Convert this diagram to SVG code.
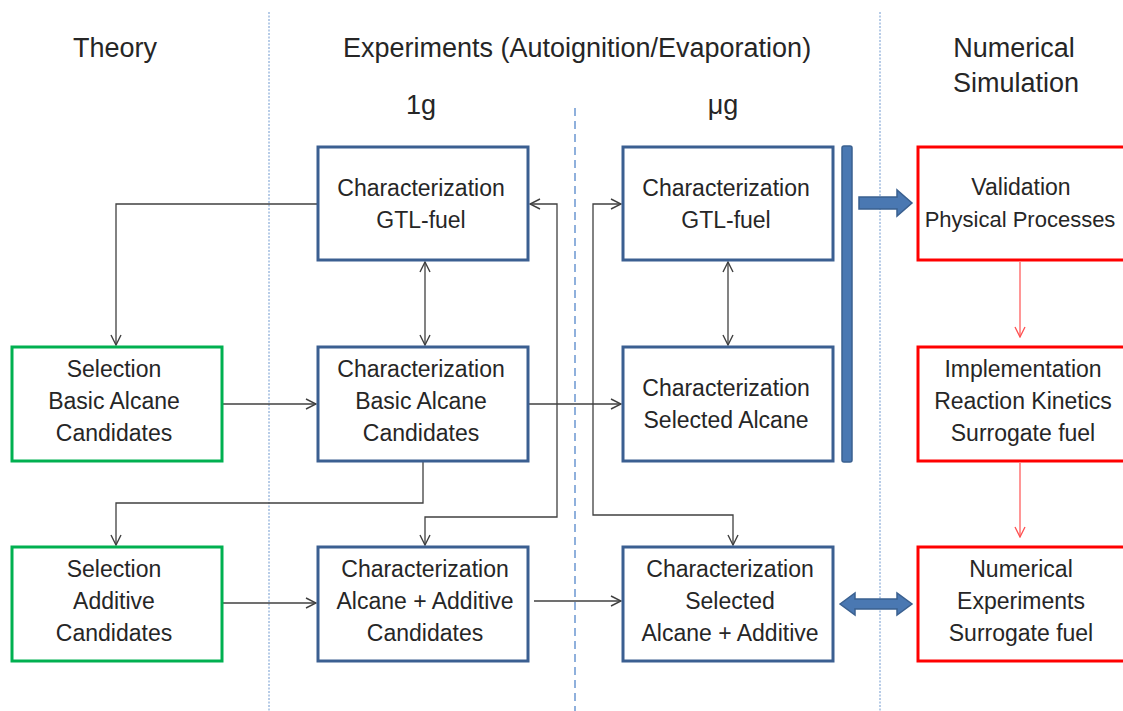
<svg xmlns="http://www.w3.org/2000/svg" width="1123" height="711" viewBox="0 0 1123 711">
<defs>
<style>
text{font-family:"Liberation Sans",Arial,sans-serif;fill:#262626;text-anchor:middle;}
.hd{font-size:27px;}
.bt{font-size:23px;}
.sm{font-size:22px;}
.blue{fill:#fff;stroke:#3B5F91;stroke-width:3;}
.green{fill:#fff;stroke:#00B050;stroke-width:3;}
.red{fill:#fff;stroke:#FF0000;stroke-width:3;}
.con{fill:none;stroke:#404040;stroke-width:1.3;}
.rcon{fill:none;stroke:#FF5050;stroke-width:1.2;}
.fine{stroke:#6F98CF;stroke-width:1;stroke-dasharray:2,1.5;}
.mid{stroke:#8FB0DC;stroke-width:2;stroke-dasharray:8,5;}
.thick{fill:#4A78B2;stroke:#3A6090;stroke-width:1.5;}
</style>
<marker id="ah" viewBox="0 0 12 12" refX="11" refY="6" markerWidth="12" markerHeight="12" markerUnits="userSpaceOnUse" orient="auto-start-reverse">
<path d="M1,1 L11,6 L1,11" fill="none" stroke="#404040" stroke-width="1.4"/>
</marker>
<marker id="rah" viewBox="0 0 12 12" refX="11" refY="6" markerWidth="12" markerHeight="12" markerUnits="userSpaceOnUse" orient="auto">
<path d="M1,1 L11,6 L1,11" fill="none" stroke="#FF5050" stroke-width="1.3"/>
</marker>
</defs>
<rect width="1123" height="711" fill="#fff"/>
<g id="dividers">
<line class="fine" x1="269" y1="12" x2="269" y2="711"/>
<line class="fine" x1="880" y1="12" x2="880" y2="711"/>
<line class="mid" x1="575" y1="108" x2="575" y2="711"/>
</g>
<g id="headers">
<text class="hd" x="115" y="57">Theory</text>
<text class="hd" x="577" y="57">Experiments (Autoignition/Evaporation)</text>
<text class="hd" x="1014" y="57">Numerical</text>
<text class="hd" x="1016" y="92">Simulation</text>
<text class="hd" x="421" y="114">1g</text>
<text class="hd" x="723" y="114">μg</text>
</g>
<g id="connectors">
<path class="con" d="M318,204 H116 V345" marker-end="url(#ah)"/>
<path class="con" d="M222,404 H316" marker-end="url(#ah)"/>
<path class="con" d="M425,262 V345" marker-start="url(#ah)" marker-end="url(#ah)"/>
<path class="con" d="M528,404 H621" marker-end="url(#ah)"/>
<path class="con" d="M423,462 V503 H116 V545" marker-end="url(#ah)"/>
<path class="con" d="M530,204 H557 V517 H425 V545" marker-start="url(#ah)" marker-end="url(#ah)"/>
<path class="con" d="M728,262 V345" marker-start="url(#ah)" marker-end="url(#ah)"/>
<path class="con" d="M621,204 H593 V515 H733 V545" marker-start="url(#ah)" marker-end="url(#ah)"/>
<path class="con" d="M222,603 H316" marker-end="url(#ah)"/>
<path class="con" d="M534,601 H621" marker-end="url(#ah)"/>
<path class="rcon" d="M1020,262 V337" marker-end="url(#rah)"/>
<path class="rcon" d="M1020,463 V537" marker-end="url(#rah)"/>
<path class="thick" d="M859,197 H897 V190 L912,203 L897,216 V209 H859 Z"/>
<path class="thick" d="M840,604 L855,593 V599 H897 V593 L912,604 L897,615 V609 H855 V615 Z"/>
<rect class="thick" x="842" y="146" width="10" height="316" rx="2"/>
</g>
<g id="n_sel_basic">
<rect class="green" x="12" y="347" width="210" height="114"/>
<text class="bt" x="114" y="377">Selection</text>
<text class="bt" x="114" y="409">Basic Alcane</text>
<text class="bt" x="114" y="441">Candidates</text>
</g>
<g id="n_sel_add">
<rect class="green" x="12" y="547" width="210" height="114"/>
<text class="bt" x="114" y="577">Selection</text>
<text class="bt" x="114" y="609">Additive</text>
<text class="bt" x="114" y="641">Candidates</text>
</g>
<g id="n_1g_gtl">
<rect class="blue" x="318" y="147" width="210" height="113"/>
<text class="bt" x="421" y="196">Characterization</text>
<text class="bt" x="421" y="228">GTL-fuel</text>
</g>
<g id="n_1g_basic">
<rect class="blue" x="318" y="347" width="210" height="114"/>
<text class="bt" x="421" y="377">Characterization</text>
<text class="bt" x="421" y="409">Basic Alcane</text>
<text class="bt" x="421" y="441">Candidates</text>
</g>
<g id="n_1g_add">
<rect class="blue" x="318" y="547" width="210" height="114"/>
<text class="bt" x="425" y="577">Characterization</text>
<text class="bt" x="425" y="609">Alcane + Additive</text>
<text class="bt" x="425" y="641">Candidates</text>
</g>
<g id="n_ug_gtl">
<rect class="blue" x="623" y="147" width="210" height="113"/>
<text class="bt" x="726" y="196">Characterization</text>
<text class="bt" x="726" y="228">GTL-fuel</text>
</g>
<g id="n_ug_sel">
<rect class="blue" x="623" y="347" width="210" height="114"/>
<text class="bt" x="726" y="396">Characterization</text>
<text class="bt" x="726" y="428">Selected  Alcane</text>
</g>
<g id="n_ug_add">
<rect class="blue" x="623" y="547" width="210" height="114"/>
<text class="bt" x="730" y="577">Characterization</text>
<text class="bt" x="730" y="609">Selected</text>
<text class="bt" x="730" y="641">Alcane + Additive</text>
</g>
<g id="n_validation">
<rect class="red" x="918" y="147" width="215" height="113"/>
<text class="bt" x="1021" y="195">Validation</text>
<text class="sm" x="1020" y="227">Physical Processes</text>
</g>
<g id="n_impl">
<rect class="red" x="918" y="347" width="215" height="114"/>
<text class="bt" x="1023" y="377">Implementation</text>
<text class="bt" x="1023" y="409">Reaction Kinetics</text>
<text class="bt" x="1023" y="441">Surrogate fuel</text>
</g>
<g id="n_numexp">
<rect class="red" x="918" y="547" width="215" height="114"/>
<text class="bt" x="1021" y="577">Numerical</text>
<text class="bt" x="1021" y="609">Experiments</text>
<text class="bt" x="1021" y="641">Surrogate fuel</text>
</g>
</svg>
